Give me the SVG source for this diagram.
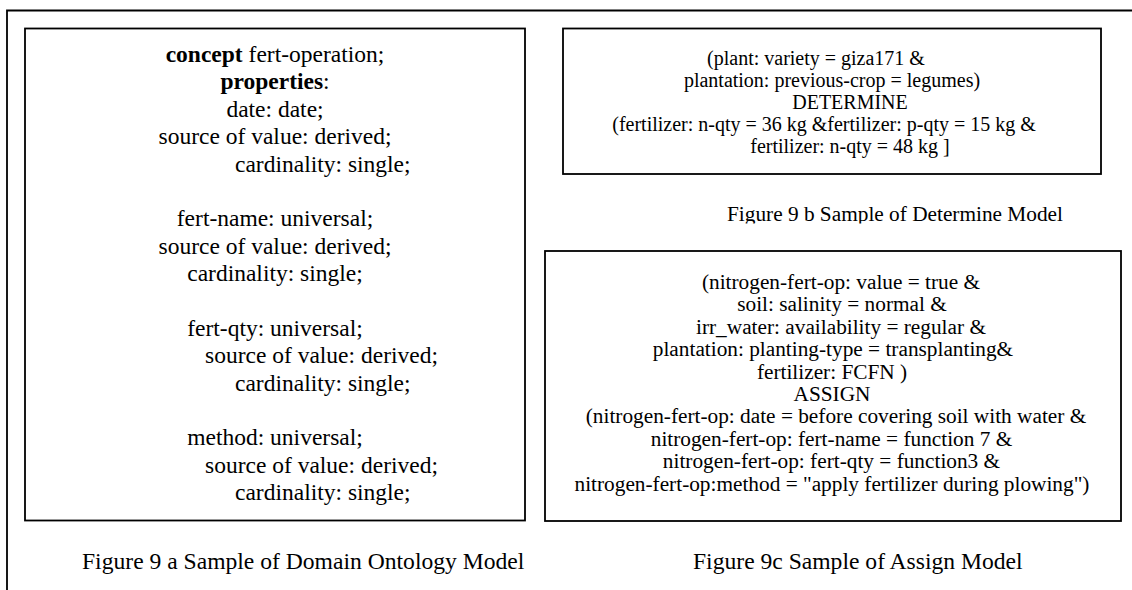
<svg xmlns="http://www.w3.org/2000/svg" width="1132" height="590" viewBox="0 0 1132 590">
  <style>
    .frame { fill: none; stroke: #000; stroke-width: 1.8; }
    .box { fill: #fff; stroke: #000; stroke-width: 1.8; }
    text { font-family: "Liberation Serif", "Times New Roman", serif; fill: #000; }
    .onto { font-size: 23.5px; }
    .rule { font-size: 21.3px; text-anchor: middle; }
    .det { font-size: 20px; text-anchor: middle; }
    .cap { font-size: 23.6px; }
    .capb { font-size: 21.3px; }
    .c { text-anchor: middle; }
  </style>
  <defs>
    <clipPath id="capClip">
      <rect x="700" y="195" width="380" height="28.5"/>
    </clipPath>
  </defs>

  <rect width="1132" height="590" fill="#fff"/>

  <!-- outer page frame -->
  <path class="frame" d="M7,592 V10.5 H1134"/>

  <!-- Figure 9a: domain ontology concept -->
  <g id="ontology-model">
    <rect class="box" x="25" y="28.5" width="500" height="492"/>
    <g class="onto">
      <text class="c" x="275" y="62"><tspan font-weight="bold">concept</tspan> fert-operation;</text>
      <text class="c" x="275" y="89.4"><tspan font-weight="bold">properties</tspan>:</text>
      <text class="c" x="275" y="116.8">date: date;</text>
      <text class="c" x="275" y="144.1">source of value: derived;</text>
      <text x="235" y="171.5">cardinality: single;</text>

      <text class="c" x="275" y="226.3">fert-name: universal;</text>
      <text class="c" x="275" y="253.6">source of value: derived;</text>
      <text class="c" x="275" y="281">cardinality: single;</text>

      <text class="c" x="275" y="335.8">fert-qty: universal;</text>
      <text x="205" y="363.1">source of value: derived;</text>
      <text x="235" y="390.5">cardinality: single;</text>

      <text class="c" x="275" y="445.3">method: universal;</text>
      <text x="205" y="472.6">source of value: derived;</text>
      <text x="235" y="500">cardinality: single;</text>
    </g>
  </g>
  <text id="caption-a" class="cap" x="82" y="569">Figure 9 a Sample of Domain Ontology Model</text>

  <!-- Figure 9b: determine rule -->
  <g id="determine-model">
    <rect class="box" x="563" y="28.5" width="538" height="145.5"/>
    <g class="det">
      <text x="816" y="64.5">(plant: variety = giza171 &amp;</text>
      <text x="832" y="86.7">plantation: previous-crop = legumes)</text>
      <text x="850" y="108.9">DETERMINE</text>
      <text x="824" y="131.1">(fertilizer: n-qty = 36 kg &amp;fertilizer: p-qty = 15 kg &amp;</text>
      <text x="850" y="153.3">fertilizer: n-qty = 48 kg ]</text>
    </g>
  </g>
  <text id="caption-b" class="capb" x="727" y="221" clip-path="url(#capClip)">Figure 9 b Sample of Determine Model</text>

  <!-- Figure 9c: assign rule -->
  <g id="assign-model">
    <rect class="box" x="545" y="251" width="576" height="270"/>
    <g class="rule">
      <text x="841" y="289">(nitrogen-fert-op: value = true &amp;</text>
      <text x="842" y="311.4">soil: salinity = normal &amp;</text>
      <text x="841" y="333.8">irr_water: availability = regular &amp;</text>
      <text x="833" y="356.2">plantation: planting-type = transplanting&amp;</text>
      <text x="832" y="378.6">fertilizer: FCFN )</text>
      <text x="832" y="401">ASSIGN</text>
      <text x="836" y="423.4">(nitrogen-fert-op: date = before covering soil with water &amp;</text>
      <text x="831.5" y="445.8">nitrogen-fert-op: fert-name = function 7 &amp;</text>
      <text x="831.5" y="468.2">nitrogen-fert-op: fert-qty = function3 &amp;</text>
      <text x="832" y="490.6">nitrogen-fert-op:method = "apply fertilizer during plowing")</text>
    </g>
  </g>
  <text id="caption-c" class="cap" x="693" y="569">Figure 9c Sample of Assign Model</text>

  <!-- no connectors in this figure -->
  <g id="connectors"/>
</svg>
